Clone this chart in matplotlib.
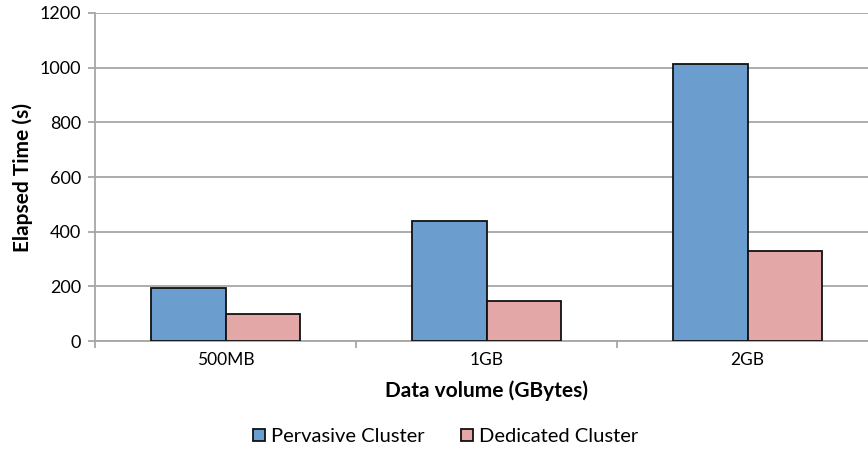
import numpy as np
import matplotlib
matplotlib.use("Agg")
from matplotlib import pyplot as plt
from matplotlib.patches import Patch

plt.rcParams['font.family'] = ['Lato', 'DejaVu Sans']

categories = ['500MB', '1GB', '2GB']
pervasive = [195, 440, 1012]
dedicated = [97, 145, 328]
yticks = [0, 200, 400, 600, 800, 1000, 1200]

blue = '#6c9dcf'
pink = '#e2a7a6'
grid_c = '#a6a6a6'

fig = plt.figure(figsize=(8.68, 4.5), dpi=100)
ax = fig.add_axes([95/868, 109/450, 783/868, 328/450])

x = np.arange(len(categories))
w = 0.287
ax.bar(x - w/2, pervasive, w, color=blue, edgecolor='#111111', linewidth=1.3, zorder=3)
ax.bar(x + w/2, dedicated, w, color=pink, edgecolor='#111111', linewidth=1.3, zorder=3)

ax.set_xlim(-0.5, 2.5)
ax.set_ylim(0, 1200)
ax.set_yticks(yticks)
ax.yaxis.grid(True, color=grid_c, linewidth=1.3, zorder=0)
ax.set_axisbelow(True)

for s in ['top', 'right']:
    ax.spines[s].set_visible(False)
for s in ['left', 'bottom']:
    ax.spines[s].set_color(grid_c)
    ax.spines[s].set_linewidth(1.3)

ax.set_xticks(x)
ax.set_xticklabels(categories)
ax.set_xticks([-0.5, 0.5, 1.5, 2.5], minor=True)
ax.tick_params(axis='x', which='major', length=0, labelsize=12.5, pad=8)
ax.tick_params(axis='x', which='minor', length=5, width=1.3, color=grid_c, direction='out')
ax.tick_params(axis='y', length=5, width=1.3, color=grid_c, labelsize=13, pad=5)

ax.set_ylabel('Elapsed Time (s)', fontsize=15, fontweight='bold', labelpad=5)
ax.set_xlabel('Data volume (GBytes)', fontsize=15, fontweight='bold', labelpad=9)

handles = [Patch(facecolor=blue, edgecolor='#111111', linewidth=1.3),
           Patch(facecolor=pink, edgecolor='#111111', linewidth=1.3)]
fig.legend(handles, ['Pervasive Cluster', 'Dedicated Cluster'], loc='center',
           bbox_to_anchor=(0.513, 0.03), ncol=2, frameon=False, fontsize=14.5,
           handlelength=0.6, handleheight=0.6, handletextpad=0.3, columnspacing=1.8)

fig.savefig('out.png', dpi=100)
